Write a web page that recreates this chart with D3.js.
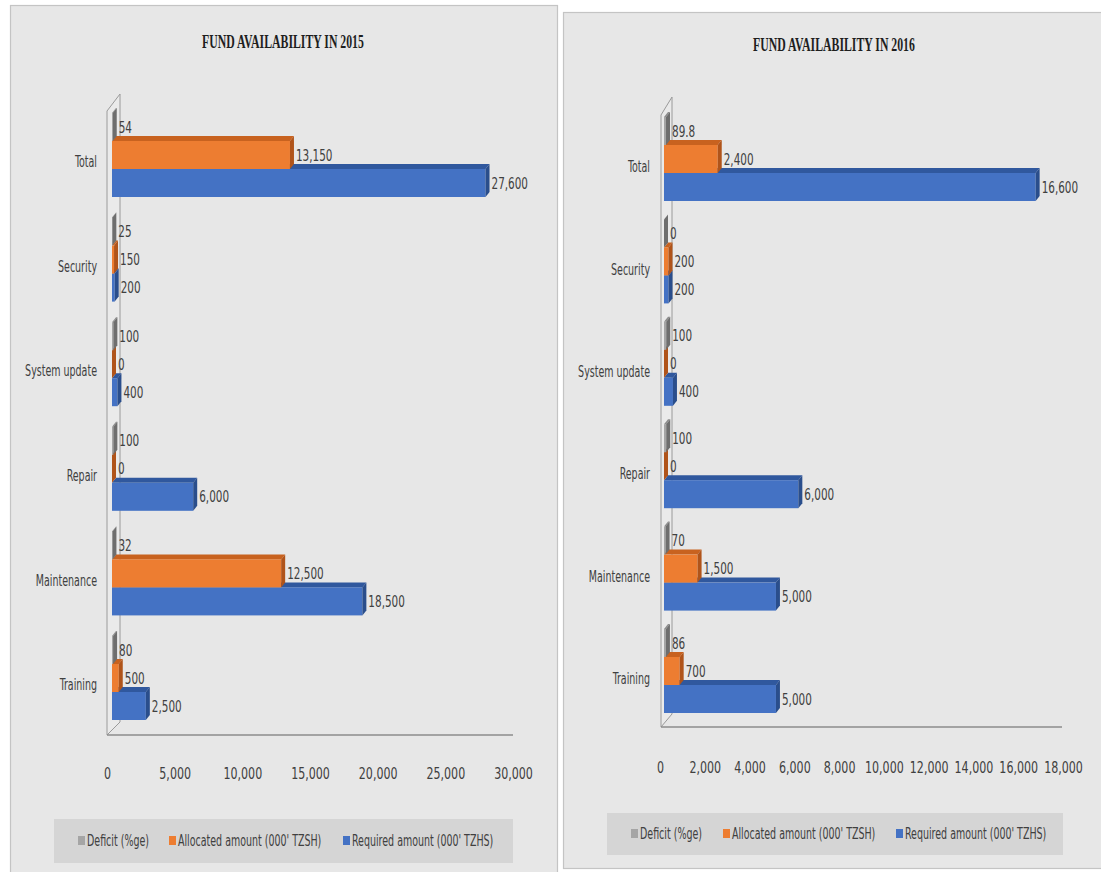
<!DOCTYPE html>
<html><head><meta charset="utf-8">
<script src="https://cdn.jsdelivr.net/npm/d3@7"></script>
<style>html,body{margin:0;padding:0;background:#fff;} svg{display:block}</style>
</head><body><svg id="c" width="1101" height="872"></svg>
<script>
// ---------- DATA ----------
const categories = ["Total", "Security", "System update", "Repair", "Maintenance", "Training"];
const seriesNames = ["Deficit (%ge)", "Allocated amount (000' TZSH)", "Required amount (000' TZHS)"];
const deficit2015 = [54, 25, 100, 100, 32, 80];
const allocated2015 = [13150, 150, 0, 0, 12500, 500];
const required2015 = [27600, 200, 400, 6000, 18500, 2500];
const deficit2016 = [89.8, 0, 100, 100, 70, 86];
const allocated2016 = [2400, 200, 0, 0, 1500, 700];
const required2016 = [16600, 200, 400, 6000, 5000, 5000];
const ticks2015 = [0, 5000, 10000, 15000, 20000, 25000, 30000];
const ticks2016 = [0, 2000, 4000, 6000, 8000, 10000, 12000, 14000, 16000, 18000];
const title2015 = "FUND AVAILABILITY IN 2015";
const title2016 = "FUND AVAILABILITY IN 2016";

// ---------- STYLE ----------
const FONT = "'DejaVu Sans Condensed','DejaVu Sans',sans-serif";
const TXT = "#404040";
const front = ["#a5a5a5", "#ed7d31", "#4472c4"];
const topC = ["#8c8c8c", "#c8621f", "#30589e"];
const sideC = ["#6e6e6e", "#b0541a", "#2a4e8c"];
const DX = 4, DY = 5;

const svg = d3.select("#c");
const fmt = d3.format(",");

function draw(cfg) {
  const g = svg.append("g");
  g.append("rect").attr("x", cfg.panel[0]).attr("y", cfg.panel[1])
    .attr("width", cfg.panel[2]).attr("height", cfg.panel[3])
    .attr("fill", "#e7e7e7").attr("stroke", "#c4c4c4").attr("stroke-width", 1.2);

  const x = d3.scaleLinear().domain([0, d3.max(cfg.ticks)]).range([cfg.x0, cfg.x1]);
  const y = d3.scaleBand().domain(categories).range([cfg.yTop, cfg.yBot]);
  const s = d3.scaleBand().domain(d3.range(3)).range(cfg.inner);
  const bh = s.bandwidth();

  // title
  g.append("text").attr("transform", `translate(${cfg.titleX},${cfg.titleY}) scale(0.655,1)`)
    .attr("text-anchor", "middle").attr("font-family", "'Liberation Serif','Times New Roman',serif")
    .attr("font-weight", "bold").attr("font-size", 18).attr("fill", "#1e1e1e").text(cfg.title);

  // wall & floor
  const w = cfg.wall; // [frontX, backX, topFront, topBack, floorY, depthY]
  g.append("path").attr("d",
    `M${w[0]},${w[4]} L${w[0]},${w[2]} L${w[1]},${w[3]} L${w[1]},${w[4] - w[5]} Z`)
    .attr("fill", "#eaeaea").attr("stroke", "#9a9a9a").attr("stroke-width", 1);
  g.append("line").attr("x1", w[0]).attr("x2", x(d3.max(cfg.ticks)) - DX - 1)
    .attr("y1", w[4]).attr("y2", w[4]).attr("stroke", "#8c8c8c").attr("stroke-width", 1.5);

  // x axis labels
  const xa = g.append("g").attr("transform", `translate(${-cfg.tickShift},${cfg.tickY})`)
    .call(d3.axisBottom(x).tickValues(cfg.ticks).tickSize(0).tickPadding(0).tickFormat(fmt));
  xa.select(".domain").remove();
  xa.selectAll("text").attr("y", 0).attr("dy", "0.35em").attr("fill", TXT)
    .attr("font-family", FONT).attr("font-size", 16).attr("transform", "scale(0.77,1)");

  // category labels
  const ya = g.append("g").attr("transform", `translate(${cfg.catX},0)`)
    .call(d3.axisLeft(y).tickSize(0).tickPadding(0));
  ya.select(".domain").remove();
  ya.selectAll("text").attr("x", 0).attr("fill", TXT).attr("font-family", FONT)
    .attr("font-size", 16).attr("transform", "scale(0.66,1)");

  // bars
  const bars = g.append("g");
  const labels = g.append("g");
  categories.forEach((c, i) => {
    const yc = y(c) + y.bandwidth() / 2;
    for (let j = 2; j >= 0; j--) {
      const v = cfg.series[j][i];
      const x0 = x(0), x1 = x(v);
      const t = yc + s(j);
      bars.append("path").attr("d",
        `M${x0},${t} L${x0 + DX},${t - DY} L${x1 + DX},${t - DY} L${x1},${t} Z`).attr("fill", topC[j]);
      bars.append("rect").attr("x", x0).attr("y", t).attr("width", Math.max(0, x1 - x0)).attr("height", bh)
        .attr("fill", front[j]);
      bars.append("path").attr("d",
        `M${x1},${t} L${x1 + DX},${t - DY} L${x1 + DX},${t + bh - DY} L${x1},${t + bh} Z`).attr("fill", sideC[j]);
      labels.append("text").attr("transform", `translate(${x1 + DX + 2},${t + bh / 2}) scale(0.725,1)`)
        .attr("dy", "0.35em").attr("font-family", FONT).attr("font-size", 16).attr("fill", TXT)
        .text(fmt(v));
    }
  });

  // legend
  const L = cfg.legend; // [x,y,w,h]
  g.append("rect").attr("x", L[0]).attr("y", L[1]).attr("width", L[2]).attr("height", L[3]).attr("fill", "#d5d5d5");
  const cy = L[1] + L[3] / 2;
  seriesNames.forEach((n, j) => {
    const lx = cfg.legendX[j];
    g.append("rect").attr("x", lx - 9).attr("y", cy - 5).attr("width", 7).attr("height", 9).attr("fill", front[j]);
    g.append("text").attr("transform", `translate(${lx},${cy}) scale(0.68,1)`).attr("dy", "0.35em")
      .attr("font-family", FONT).attr("font-size", 15.5).attr("fill", TXT).text(n);
  });
}

draw({
  panel: [10.5, 5.5, 547, 890],
  title: title2015, titleX: 283, titleY: 48,
  ticks: ticks2015, x0: 112, x1: 518, tickShift: 5, tickY: 773,
  yTop: 109.7, yBot: 737.3, inner: [-49, 35],
  wall: [107, 120, 111, 94, 735, 13],
  catX: 97,
  series: [deficit2015, allocated2015, required2015],
  legend: [54, 819, 459, 44], legendX: [87, 178, 352]
});
draw({
  panel: [563.5, 12.5, 560, 856],
  title: title2016, titleX: 834, titleY: 51,
  ticks: ticks2016, x0: 664, x1: 1067, tickShift: 4, tickY: 767,
  yTop: 115.8, yBot: 730.2, inner: [-50, 34],
  wall: [661, 672, 115, 97, 727, 13],
  catX: 650,
  series: [deficit2016, allocated2016, required2016],
  legend: [607, 813, 456, 42], legendX: [640, 732, 905]
});
</script></body></html>
